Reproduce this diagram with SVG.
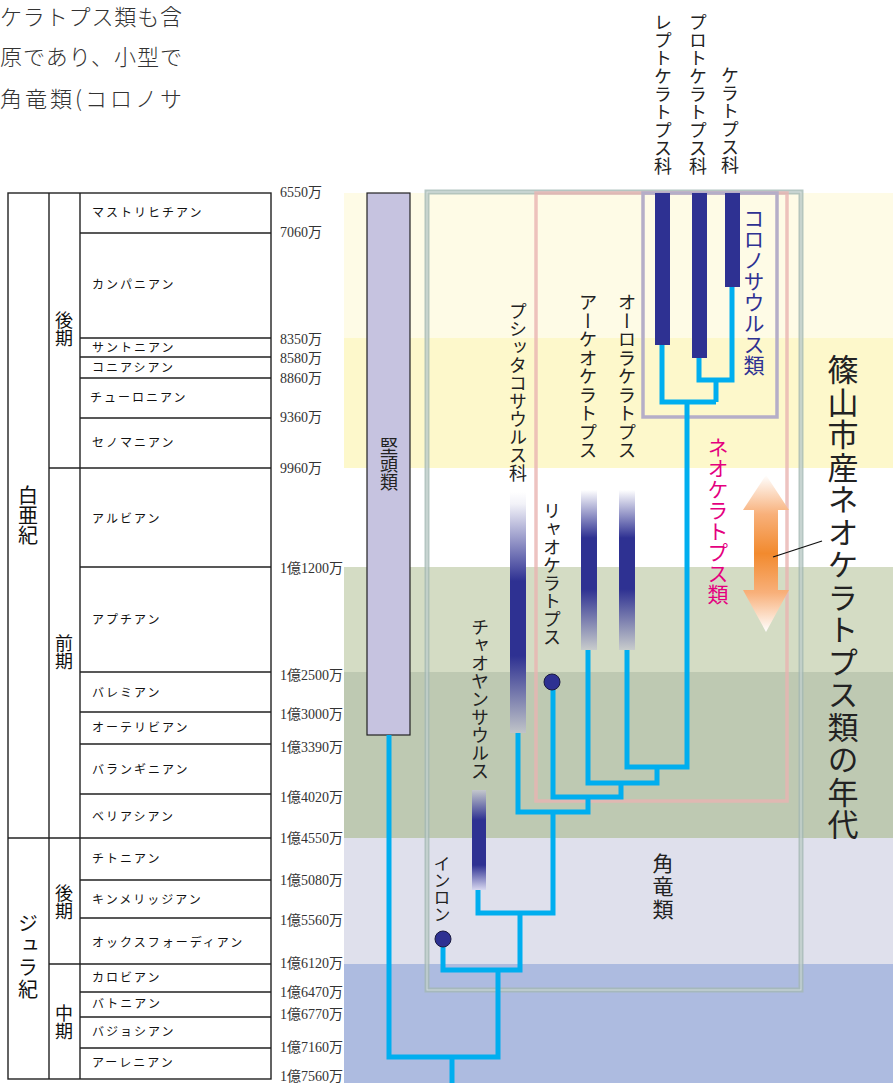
<svg xmlns="http://www.w3.org/2000/svg" width="893" height="1083" viewBox="0 0 893 1083">
<style>
.jp{font-family:"Noto Sans CJK JP",sans-serif;fill:#222}
.v{writing-mode:vertical-rl}
.stage{font-family:"Noto Sans CJK JP",sans-serif;font-size:12px;letter-spacing:2px;fill:#111}
.age{font-family:"Liberation Serif","Noto Sans CJK JP",serif;font-size:14px;fill:#333}
.tbl{stroke:#222;stroke-width:1.4;fill:none}
.cy{stroke:#00aeef;stroke-width:5;fill:none;stroke-linejoin:miter;stroke-linecap:butt}
.navy{fill:#2e3192}
.dot{fill:#2e3192;stroke:#1a1a40;stroke-width:1}
</style>
<defs>
<linearGradient id="gPsi" x1="0" y1="0" x2="0" y2="1">
<stop offset="0" stop-color="#ffffff"/><stop offset="0.05" stop-color="#f2f2f8"/><stop offset="0.37" stop-color="#2e3192"/><stop offset="0.68" stop-color="#2e3192"/><stop offset="1" stop-color="#c0c4c8"/>
</linearGradient>
<linearGradient id="gArc" x1="0" y1="0" x2="0" y2="1">
<stop offset="0" stop-color="#ffffff"/><stop offset="0.3" stop-color="#2e3192"/><stop offset="0.62" stop-color="#2e3192"/><stop offset="1" stop-color="#c8cccc"/>
</linearGradient>
<linearGradient id="gCha" x1="0" y1="0" x2="0" y2="1">
<stop offset="0" stop-color="#c4c8cc"/><stop offset="0.3" stop-color="#2e3192"/><stop offset="0.75" stop-color="#2e3192"/><stop offset="1" stop-color="#d8d8f0"/>
</linearGradient>
<linearGradient id="gArrow" x1="0" y1="0" x2="0" y2="1">
<stop offset="0" stop-color="#ffffff"/><stop offset="0.25" stop-color="#f8b07a"/><stop offset="0.5" stop-color="#f28a2e"/><stop offset="0.75" stop-color="#f8b07a"/><stop offset="1" stop-color="#ffffff"/>
</linearGradient>
</defs>

<rect width="893" height="1083" fill="#ffffff"/>

<!-- intro text -->
<g id="intro" style="font-family:'Noto Sans CJK JP',sans-serif;font-weight:300;font-size:22px;fill:#333">
<text x="0" y="25" textLength="182" lengthAdjust="spacing">ケラトプス類も含</text>
<text x="0" y="65" textLength="182" lengthAdjust="spacing">原であり、小型で</text>
<text x="0" y="107" textLength="182" lengthAdjust="spacing">角竜類(コロノサ</text>
</g>

<!-- time bands -->
<g id="bands">
<rect x="344" y="193" width="549" height="145" fill="#fefbe6"/>
<rect x="344" y="338" width="549" height="130" fill="#fdf8cb"/>
<rect x="344" y="567" width="549" height="105" fill="#d4dcc4"/>
<rect x="344" y="672" width="549" height="166" fill="#bec9b2"/>
<rect x="344" y="838" width="549" height="126" fill="#dfe0ec"/>
<rect x="344" y="964" width="549" height="119" fill="#adbbe0"/>
</g>

<!-- geologic table -->
<g id="table">
<rect class="tbl" x="8" y="193" width="263" height="886"/>
<line class="tbl" x1="49" y1="193" x2="49" y2="1079"/>
<line class="tbl" x1="80" y1="193" x2="80" y2="1079"/>
<line class="tbl" x1="8" y1="838" x2="271" y2="838"/>
<line class="tbl" x1="49" y1="468" x2="271" y2="468"/>
<line class="tbl" x1="49" y1="964" x2="271" y2="964"/>
<path class="tbl" d="M80,233H271M80,338H271M80,357H271M80,378H271M80,418H271M80,567H271M80,672H271M80,712H271M80,744H271M80,794H271M80,880H271M80,918H271M80,992H271M80,1017H271M80,1048H271"/>
<g class="jp" style="font-size:20px;fill:#111">
<text class="v" x="28" y="485">白亜紀</text>
<text class="v" x="28" y="913" letter-spacing="2">ジュラ紀</text>
</g>
<g class="jp" style="font-size:18px;fill:#111">
<text class="v" x="64" y="311">後期</text>
<text class="v" x="64" y="634">前期</text>
<text class="v" x="64" y="884">後期</text>
<text class="v" x="64" y="1004">中期</text>
</g>
<g class="stage">
<text x="92" y="217">マストリヒチアン</text>
<text x="92" y="289">カンパニアン</text>
<text x="92" y="352">サントニアン</text>
<text x="92" y="372">コニアシアン</text>
<text x="90" y="402">チューロニアン</text>
<text x="92" y="447">セノマニアン</text>
<text x="92" y="523">アルビアン</text>
<text x="92" y="624">アプチアン</text>
<text x="92" y="697">バレミアン</text>
<text x="92" y="732">オーテリビアン</text>
<text x="92" y="774">バランギニアン</text>
<text x="92" y="821">ベリアシアン</text>
<text x="92" y="863">チトニアン</text>
<text x="92" y="904">キンメリッジアン</text>
<text x="92" y="947">オックスフォーディアン</text>
<text x="92" y="982">カロビアン</text>
<text x="92" y="1008">バトニアン</text>
<text x="92" y="1036">バジョシアン</text>
<text x="92" y="1067">アーレニアン</text>
</g>
<g class="age">
<text x="280" y="197">6550万</text>
<text x="280" y="237">7060万</text>
<text x="280" y="344">8350万</text>
<text x="280" y="363">8580万</text>
<text x="280" y="383">8860万</text>
<text x="280" y="422">9360万</text>
<text x="280" y="473">9960万</text>
<text x="280" y="573">1億1200万</text>
<text x="280" y="680">1億2500万</text>
<text x="280" y="719">1億3000万</text>
<text x="280" y="752">1億3390万</text>
<text x="280" y="802">1億4020万</text>
<text x="280" y="843">1億4550万</text>
<text x="280" y="885">1億5080万</text>
<text x="280" y="925">1億5560万</text>
<text x="280" y="968">1億6120万</text>
<text x="280" y="997">1億6470万</text>
<text x="280" y="1019">1億6770万</text>
<text x="280" y="1052">1億7160万</text>
<text x="280" y="1081">1億7560万</text>
</g>
</g>

<!-- clade boxes -->
<g id="ceratopsia-box">
<rect x="427" y="192" width="374" height="798" fill="none" stroke="#a3b8b3" stroke-width="5" stroke-opacity="0.8"/>
<rect x="427" y="192" width="374" height="798" fill="none" stroke="#ffffff" stroke-width="1" stroke-opacity="0.5"/>
<text class="jp v" x="663" y="853" style="font-size:21px" letter-spacing="2">角竜類</text>
</g>
<g id="neoceratopsia-box">
<rect x="536" y="193" width="251" height="608" fill="none" stroke="#e8b4b2" stroke-width="3.5" stroke-opacity="0.8"/>
<text class="jp v" x="718" y="437" style="font-size:21px;fill:#e4007f">ネオケラトプス類</text>
</g>
<g id="coronosauria-box">
<rect x="643" y="193" width="134" height="224" fill="none" stroke="#b5aec8" stroke-width="3.5"/>
<text class="jp v" x="754" y="208" style="font-size:21px;fill:#2e3192">コロノサウルス類</text>
</g>

<!-- pachycephalosaurs -->
<g id="pachycephalosauria">
<rect x="367" y="193" width="43" height="542" fill="#c6c3e0" stroke="#222" stroke-width="1.2"/>
<text class="jp v" x="389" y="437" style="font-size:18px">堅頭類</text>
</g>

<!-- taxa -->
<g id="leptoceratopsidae">
<rect class="navy" x="655" y="193" width="15" height="152"/>
<text class="jp v" x="663" y="13" style="font-size:18px">レプトケラトプス科</text>
</g>
<g id="protoceratopsidae">
<rect class="navy" x="692" y="193" width="15" height="165"/>
<text class="jp v" x="698" y="13" style="font-size:18px">プロトケラトプス科</text>
</g>
<g id="ceratopsidae">
<rect class="navy" x="725" y="193" width="15" height="94"/>
<text class="jp v" x="730" y="66" style="font-size:18px">ケラトプス科</text>
</g>
<g id="psittacosauridae">
<rect x="510" y="492" width="16" height="241" fill="url(#gPsi)"/>
<text class="jp v" x="518" y="302" style="font-size:18px">プシッタコサウルス科</text>
</g>
<g id="archaeoceratops">
<rect x="581" y="490" width="16" height="160" fill="url(#gArc)"/>
<text class="jp v" x="588" y="293" style="font-size:18.5px">アーケオケラトプス</text>
</g>
<g id="auroraceratops">
<rect x="619" y="490" width="16" height="160" fill="url(#gArc)"/>
<text class="jp v" x="627" y="293" style="font-size:18.5px">オーロラケラトプス</text>
</g>
<g id="liaoceratops">
<text class="jp v" x="552" y="502" style="font-size:18px">リャオケラトプス</text>
</g>
<g id="chaoyangsaurus">
<rect x="472" y="790" width="14" height="100" fill="url(#gCha)"/>
<text class="jp v" x="480" y="618" style="font-size:18px">チャオヤンサウルス</text>
</g>
<g id="yinlong">
<text class="jp v" x="442" y="855" style="font-size:17px">インロン</text>
</g>

<!-- connectors -->
<g id="connectors">
<path class="cy" d="M662,345V402H716"/>
<path class="cy" d="M699,358V380H732V287"/>
<path class="cy" d="M716,380V402"/>
<path class="cy" d="M687,402V767H627V650"/>
<path class="cy" d="M657,767V783H588V650"/>
<path class="cy" d="M621,783V797H553V690"/>
<path class="cy" d="M588,797V812H518V733"/>
<path class="cy" d="M553,812V913H478V890"/>
<path class="cy" d="M520,913V970H443V947"/>
<path class="cy" d="M498,970V1057H389V735"/>
<path class="cy" d="M452,1057V1083"/>
</g>
<g id="fossil-dots">
<circle class="dot" cx="552" cy="682" r="8"/>
<circle class="dot" cx="443" cy="939" r="8"/>
</g>

<!-- Sasayama range arrow -->
<g id="sasayama">
<polygon points="766,475 789,510 778,510 778,590 789,590 766,632 743,590 754,590 754,510 743,510" fill="url(#gArrow)"/>
<line x1="773" y1="557" x2="822" y2="541" stroke="#111" stroke-width="1.3"/>
<text class="jp v" x="843" y="354" style="font-size:31px" letter-spacing="1.5">篠山市産ネオケラトプス類の年代</text>
</g>
</svg>
